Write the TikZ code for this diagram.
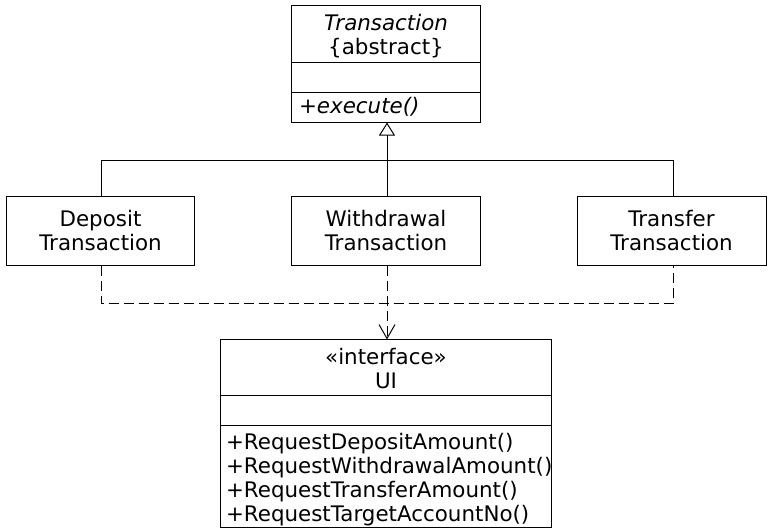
\documentclass[tikz,border=0pt]{standalone}
\usepackage{fontspec}
\setmainfont{DejaVu Sans}
\usetikzlibrary{arrows.meta}
\begin{document}
\begin{tikzpicture}[x=1pt,y=-1pt,
  every node/.style={inner sep=0pt, outer sep=0pt, font=\fontsize{21.4}{24}\selectfont},
  box/.style={draw, line width=1pt, anchor=north west},
  txt/.style={anchor=base},
  mtxt/.style={anchor=base west},
  conn/.style={line width=1pt},
  dash conn/.style={line width=1pt, dash pattern=on 10pt off 5pt}]
\useasboundingbox (0,0) rectangle (770,531);
% Transaction
\node[box, minimum width=189pt, minimum height=117pt] (trans) at (291.5,5.5) {};
\node[txt] (tname) at (386,30) {\itshape Transaction};
\node[txt] (tabs) at (386,54) {\{abstract\}};
\draw[line width=1pt] (trans.west |- 0,62.5) -- (trans.east |- 0,62.5);
\draw[line width=1pt] (trans.west |- 0,92.5) -- (trans.east |- 0,92.5);
\node[mtxt] (texec) at (299,113) {\itshape +execute()};
% Subclasses
\node[box, minimum width=188pt, minimum height=69pt] (dep) at (6.5,196.5) {};
\node[align=center] (deptxt) at (100.5,231) {Deposit\\Transaction};
\node[box, minimum width=189pt, minimum height=69pt] (wd) at (291.5,196.5) {};
\node[align=center] (wdtxt) at (386,231) {Withdrawal\\Transaction};
\node[box, minimum width=189pt, minimum height=69pt] (trf) at (577.5,196.5) {};
\node[align=center] (trftxt) at (671.5,231) {Transfer\\Transaction};
% UI
\node[box, minimum width=331pt, minimum height=188pt] (ui) at (220.5,339.5) {};
\node[txt] (uist) at (386,364) {«interface»};
\node[txt] (uiname) at (386,388) {UI};
\draw[line width=1pt] (ui.west |- 0,395.5) -- (ui.east |- 0,395.5);
\draw[line width=1pt] (ui.west |- 0,425.5) -- (ui.east |- 0,425.5);
\node[mtxt] (m1) at (226,449) {+RequestDepositAmount()};
\node[mtxt] (m2) at (226,473) {+RequestWithdrawalAmount()};
\node[mtxt] (m3) at (226,497) {+RequestTransferAmount()};
\node[mtxt] (m4) at (226,521) {+RequestTargetAccountNo()};
% Generalization
\coordinate (gj) at (387.5,160.5);
\draw[conn] ([xshift=1pt]dep.north) |- (gj) -| ([xshift=1pt]trf.north);
\draw[conn, -{Triangle[open, length=13pt, width=16pt, line width=1pt]}] ([xshift=1pt]wd.north) -- ([xshift=1pt]trans.south);
% Realization
\coordinate (rj) at (387.5,303.5);
\draw[dash conn] ([xshift=1pt]dep.south) |- (rj) -| ([xshift=1pt]trf.south);
\draw[dash conn, -{Straight Barb[length=14pt, width=16pt, line width=1pt]}] ([xshift=1pt]wd.south) -- ([xshift=1pt]ui.north);
\end{tikzpicture}
\end{document}
